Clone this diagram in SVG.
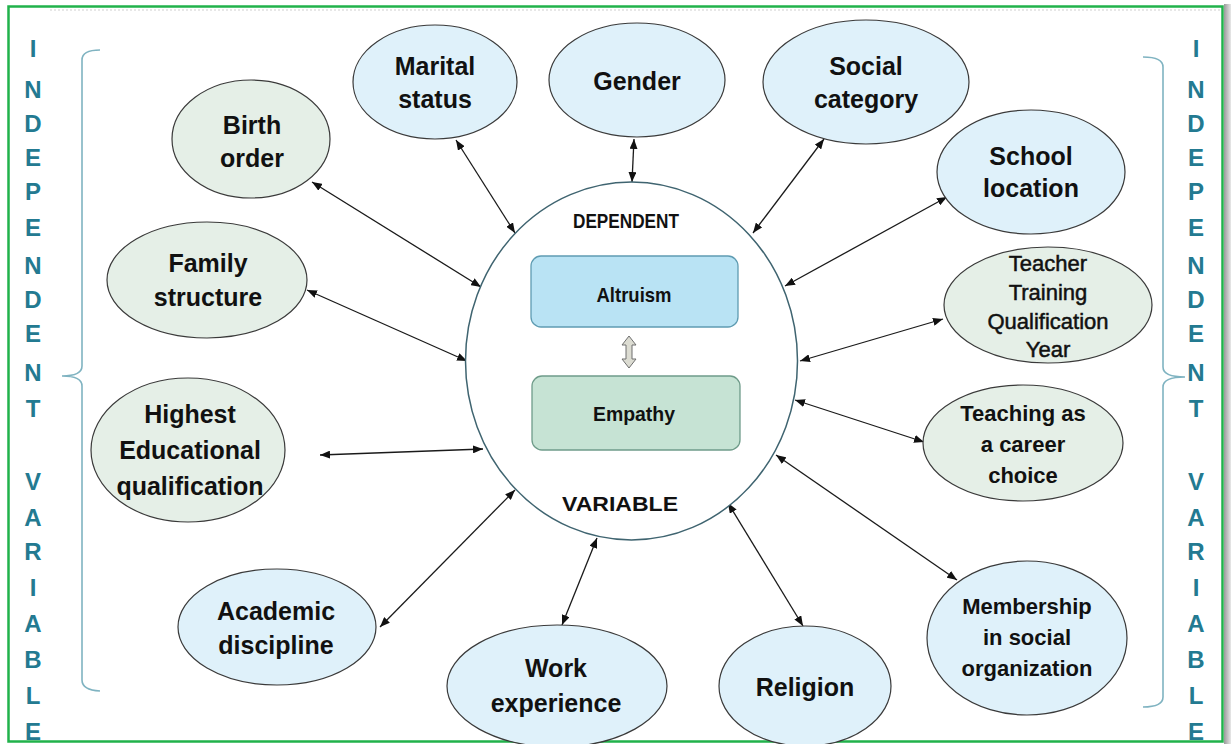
<svg xmlns="http://www.w3.org/2000/svg" width="1231" height="744" viewBox="0 0 1231 744">
<defs>
<marker id="ah" viewBox="0 0 10 8" refX="10" refY="4" markerWidth="10" markerHeight="8" markerUnits="userSpaceOnUse" orient="auto-start-reverse">
<path d="M0,0 L10,4 L0,8 z" fill="#111"/>
</marker>
<linearGradient id="shadow" x1="0" y1="0" x2="1" y2="0">
<stop offset="0" stop-color="#9a9a9a"/>
<stop offset="1" stop-color="#e8e8e8"/>
</linearGradient>
</defs>
<style>
.lbl{font-family:"Liberation Sans",Arial,sans-serif;font-weight:bold;font-size:25px;fill:#111;text-anchor:middle}
.sm{font-size:22px}
.thin{font-weight:normal;stroke:#111;stroke-width:0.5}
.side{font-family:"Liberation Sans",Arial,sans-serif;font-weight:bold;font-size:24px;fill:#237a91;text-anchor:middle}
.blue{fill:#dff1fa;stroke:#3a3a3a;stroke-width:1.2}
.green{fill:#e5efe7;stroke:#3a3a3a;stroke-width:1.2}
.conn line{stroke:#1a1a1a;stroke-width:1.3;marker-start:url(#ah);marker-end:url(#ah)}
.brace{fill:none;stroke:#7fb3c1;stroke-width:1.6}
.ctr{font-family:"Liberation Sans",Arial,sans-serif;font-weight:bold;fill:#111;text-anchor:middle}
</style>
<rect x="0" y="0" width="1231" height="744" fill="#ffffff"/>
<rect x="1224" y="4" width="7" height="740" fill="url(#shadow)"/>
<line x1="50" y1="10" x2="1220" y2="10" stroke="#cfcfcf" stroke-width="1" stroke-dasharray="2 2"/>
<rect x="8.5" y="6.5" width="1214" height="735" fill="none" stroke="#21b24b" stroke-width="2.5"/>

<g id="side-labels">
<g id="left-label">
<text class="side" x="33" y="57">I</text>
<text class="side" x="33" y="98">N</text>
<text class="side" x="33" y="132">D</text>
<text class="side" x="33" y="166">E</text>
<text class="side" x="33" y="200">P</text>
<text class="side" x="33" y="236">E</text>
<text class="side" x="33" y="274">N</text>
<text class="side" x="33" y="308">D</text>
<text class="side" x="33" y="342">E</text>
<text class="side" x="33" y="381">N</text>
<text class="side" x="33" y="417">T</text>
<text class="side" x="33" y="490">V</text>
<text class="side" x="33" y="526">A</text>
<text class="side" x="33" y="560">R</text>
<text class="side" x="33" y="596">I</text>
<text class="side" x="33" y="632">A</text>
<text class="side" x="33" y="668">B</text>
<text class="side" x="33" y="704">L</text>
<text class="side" x="33" y="740">E</text>
</g>
<g id="right-label">
<text class="side" x="1196" y="57">I</text>
<text class="side" x="1196" y="98">N</text>
<text class="side" x="1196" y="132">D</text>
<text class="side" x="1196" y="166">E</text>
<text class="side" x="1196" y="200">P</text>
<text class="side" x="1196" y="236">E</text>
<text class="side" x="1196" y="274">N</text>
<text class="side" x="1196" y="308">D</text>
<text class="side" x="1196" y="342">E</text>
<text class="side" x="1196" y="381">N</text>
<text class="side" x="1196" y="417">T</text>
<text class="side" x="1196" y="490">V</text>
<text class="side" x="1196" y="526">A</text>
<text class="side" x="1196" y="560">R</text>
<text class="side" x="1196" y="596">I</text>
<text class="side" x="1196" y="632">A</text>
<text class="side" x="1196" y="668">B</text>
<text class="side" x="1196" y="704">L</text>
<text class="side" x="1196" y="740">E</text>
</g>
<path class="brace" d="M100,50 Q82,50 82,60 L82,366 Q82,376 62,376 Q82,376 82,386 L82,680 Q82,690 100,691"/>
<path class="brace" d="M1143,57 Q1163,57 1163,67 L1163,367 Q1163,377 1185,377 Q1163,377 1163,387 L1163,697 Q1163,707 1143,707"/>
</g>

<g id="connectors" class="conn">
<line x1="312" y1="182" x2="481" y2="287"/>
<line x1="456" y1="140" x2="515" y2="233"/>
<line x1="634" y1="139" x2="632" y2="182"/>
<line x1="824" y1="139" x2="753" y2="233"/>
<line x1="947" y1="197" x2="785" y2="286"/>
<line x1="943" y1="319" x2="800" y2="361"/>
<line x1="924" y1="442" x2="795" y2="400"/>
<line x1="957" y1="580" x2="776" y2="455"/>
<line x1="803" y1="626" x2="728" y2="503"/>
<line x1="562" y1="625" x2="597" y2="538"/>
<line x1="380" y1="627" x2="515" y2="490"/>
<line x1="320" y1="455" x2="483" y2="449"/>
<line x1="307" y1="290" x2="467" y2="361"/>
</g>

<g id="center">
<ellipse cx="631.5" cy="361" rx="166" ry="179" fill="#ffffff" stroke="#3f6470" stroke-width="1.5"/>
<text class="ctr" x="626" y="228" font-size="20" textLength="106" lengthAdjust="spacingAndGlyphs">DEPENDENT</text>
<text class="ctr" x="620" y="511" font-size="21" textLength="116" lengthAdjust="spacingAndGlyphs">VARIABLE</text>
<g id="altruism">
<rect x="531" y="256" width="207" height="71" rx="10" fill="#b9e3f4" stroke="#5f9cb2" stroke-width="1.3"/>
<text class="ctr" x="634" y="302" font-size="21" textLength="75" lengthAdjust="spacingAndGlyphs">Altruism</text>
</g>
<g id="empathy">
<rect x="532" y="376" width="208" height="74" rx="10" fill="#c6e3d4" stroke="#6f9c8a" stroke-width="1.3"/>
<text class="ctr" x="634" y="421" font-size="21" textLength="82" lengthAdjust="spacingAndGlyphs">Empathy</text>
</g>
<path id="link-arrow" d="M629,336 L636,345 L632,345 L632,359 L636,359 L629,368 L622,359 L626,359 L626,345 L622,345 Z" fill="#dcdcd2" stroke="#6f6f6f" stroke-width="1"/>
</g>

<g id="birth-order">
<ellipse class="green" cx="251" cy="139" rx="79" ry="59"/>
<text class="lbl" x="252" y="134">Birth</text>
<text class="lbl" x="252" y="167">order</text>
</g>
<g id="marital-status">
<ellipse class="blue" cx="435" cy="82" rx="82" ry="57"/>
<text class="lbl" x="435" y="75">Marital</text>
<text class="lbl" x="435" y="108">status</text>
</g>
<g id="gender">
<ellipse class="blue" cx="637" cy="80" rx="88" ry="57"/>
<text class="lbl" x="637" y="90">Gender</text>
</g>
<g id="social-category">
<ellipse class="blue" cx="866" cy="82" rx="103" ry="62"/>
<text class="lbl" x="866" y="75">Social</text>
<text class="lbl" x="866" y="108">category</text>
</g>
<g id="school-location">
<ellipse class="blue" cx="1031" cy="172" rx="94" ry="62"/>
<text class="lbl" x="1031" y="165">School</text>
<text class="lbl" x="1031" y="197">location</text>
</g>
<g id="teacher-training">
<ellipse class="green" cx="1048" cy="305" rx="104" ry="58"/>
<text class="lbl sm thin" x="1048" y="271">Teacher</text>
<text class="lbl sm thin" x="1048" y="300">Training</text>
<text class="lbl sm thin" x="1048" y="329">Qualification</text>
<text class="lbl sm thin" x="1048" y="357">Year</text>
</g>
<g id="teaching-career">
<ellipse class="green" cx="1023" cy="443" rx="100" ry="58"/>
<text class="lbl sm" x="1023" y="421">Teaching as</text>
<text class="lbl sm" x="1023" y="452">a career</text>
<text class="lbl sm" x="1023" y="483">choice</text>
</g>
<g id="membership">
<ellipse class="blue" cx="1027" cy="638" rx="100" ry="77"/>
<text class="lbl sm" x="1027" y="614">Membership</text>
<text class="lbl sm" x="1027" y="645">in social</text>
<text class="lbl sm" x="1027" y="676">organization</text>
</g>
<g id="religion">
<ellipse class="blue" cx="805" cy="686" rx="86" ry="60"/>
<text class="lbl" x="805" y="696">Religion</text>
</g>
<g id="work-experience">
<ellipse class="blue" cx="557" cy="686" rx="110" ry="61"/>
<text class="lbl" x="556" y="677">Work</text>
<text class="lbl" x="556" y="712">experience</text>
</g>
<g id="academic-discipline">
<ellipse class="blue" cx="277" cy="627" rx="99" ry="58"/>
<text class="lbl" x="276" y="620">Academic</text>
<text class="lbl" x="276" y="654">discipline</text>
</g>
<g id="highest-education">
<ellipse class="green" cx="188" cy="450" rx="97" ry="72"/>
<text class="lbl" x="190" y="423">Highest</text>
<text class="lbl" x="190" y="459">Educational</text>
<text class="lbl" x="190" y="495">qualification</text>
</g>
<g id="family-structure">
<ellipse class="green" cx="207" cy="280" rx="100" ry="58"/>
<text class="lbl" x="208" y="272">Family</text>
<text class="lbl" x="208" y="306">structure</text>
</g>
</svg>
